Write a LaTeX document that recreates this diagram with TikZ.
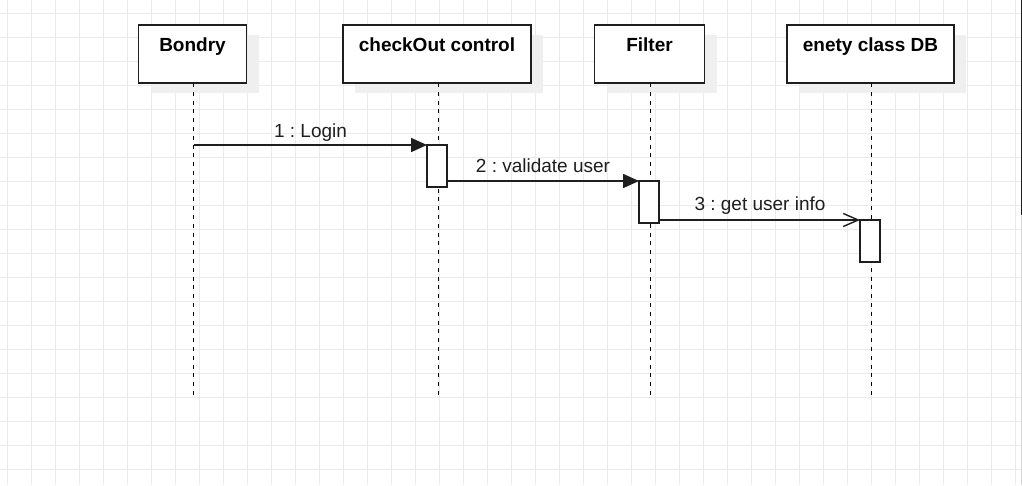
\documentclass[tikz,border=0pt]{standalone}
\usepackage{fontspec}
\setmainfont{Liberation Sans}
\usetikzlibrary{arrows.meta}
\definecolor{gridc}{HTML}{EBEBEB}
\definecolor{shadc}{HTML}{EFEFEF}
\definecolor{linec}{HTML}{1E1E1E}
\frenchspacing
\begin{document}
\begin{tikzpicture}[x=1pt,y=-1pt,
  every node/.style={inner sep=0pt,outer sep=0pt},
  lbl/.style={font=\fontsize{19}{22}\selectfont,text=linec,anchor=base},
  ttl/.style={font=\fontsize{19}{22}\selectfont\bfseries,text=black,anchor=base},
  actor/.style={draw=linec,line width=1.6pt,fill=white,minimum height=58pt},
  shad/.style={fill=shadc,minimum height=58pt},
  actbox/.style={draw=linec,line width=1.6pt,fill=white,minimum width=20pt},
  lifeline/.style={draw=black,line width=1.3pt,dash pattern=on 4pt off 4.8pt},
  msgfill/.style={draw=linec,line width=1.6pt,-{Triangle[length=16pt,width=14pt]}},
  msgopen/.style={draw=linec,line width=1.6pt,-{Straight Barb[length=15pt,width=13pt,line width=1.4pt]}}]
\useasboundingbox (0,0) rectangle (1022,485);
\fill[white] (0,0) rectangle (1022,485);
\foreach \gx in {7.3,31.3,...,1022} \draw[gridc,line width=1pt] (\gx,0) -- (\gx,485);
\foreach \gy in {13.3,37.3,...,485} \draw[gridc,line width=1pt] (0,\gy) -- (1022,\gy);
\draw[linec,line width=1.2pt] (1021.2,0) -- (1021.2,215);
\draw[gridc!80!gray,line width=1pt] (1021.2,215) -- (1021.2,485);
% shadows
\node[shad,minimum width=108pt] (s1) at (204.5,64) {};
\node[shad,minimum width=188pt] (s2) at (449,64) {};
\node[shad,minimum width=110pt] (s3) at (661.5,64) {};
\node[shad,minimum width=167pt] (s4) at (882.5,64) {};
% actor boxes
\node[actor,minimum width=108pt] (b1) at (192.5,54) {};
\node[actor,minimum width=188pt] (b2) at (437,54) {};
\node[actor,minimum width=110pt] (b3) at (649.5,54) {};
\node[actor,minimum width=167pt] (b4) at (870.5,54) {};
\node[ttl] (t1) at (192.5,51.5) {Bondry};
\node[ttl] (t2) at (437,51.5) {checkOut control};
\node[ttl] (t3) at (649.5,51.5) {Filter};
\node[ttl] (t4) at (870.5,51.5) {enety class DB};
% lifelines
\coordinate (e1) at (193.7,395);
\coordinate (e2) at (438.3,395);
\coordinate (e3) at (650.8,395);
\coordinate (e4) at (871.8,395);
\draw[lifeline] (b1.south -| e1) -- (e1);
\draw[lifeline] (b2.south -| e2) -- (e2);
\draw[lifeline] (b3.south -| e3) -- (e3);
\draw[lifeline] (b4.south -| e4) -- (e4);
% activations
\node[actbox,minimum height=42pt] (a1) at (437,166) {};
\node[actbox,minimum height=42pt] (a2) at (649,202) {};
\node[actbox,minimum height=42pt] (a3) at (870,241) {};
% messages
\coordinate (m1s) at (193.7,145);
\draw[msgfill] (m1s) -- (a1.north west);
\draw[msgfill] (a1.east |- a2.north) -- (a2.north west);
\draw[msgopen] (a2.east |- a3.north) -- (a3.north west);
\node[lbl] (l1) at (310.5,137) {1 : Login};
\node[lbl] (l2) at (543,172) {2 : validate user};
\node[lbl] (l3) at (760,210.5) {3 : get user info};
\end{tikzpicture}
\end{document}
